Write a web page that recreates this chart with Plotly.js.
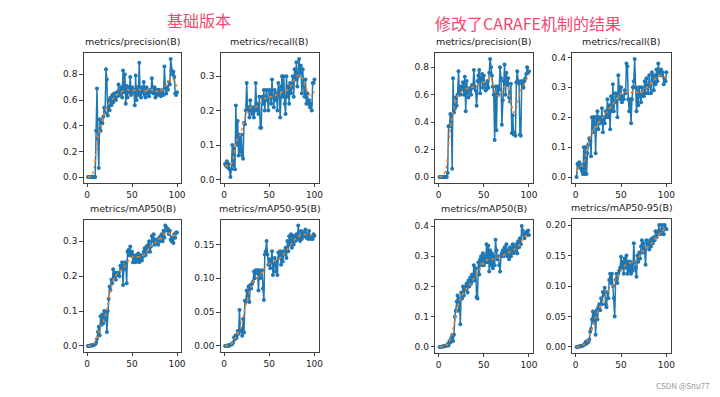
<!DOCTYPE html>
<html><head><meta charset="utf-8">
<script src="https://cdn.plot.ly/plotly-3.0.1.min.js"></script>
<style>html,body{margin:0;padding:0;background:#fff}#c{width:720px;height:397px}</style>
</head><body><div id="c"></div>
<script>
// ---- data ----
const panelTitles = ["metrics/precision(B)","metrics/recall(B)","metrics/mAP50(B)","metrics/mAP50-95(B)"];
const groupTitles = ["基础版本","修改了CARAFE机制的结果"];
const watermark = "CSDN @Snu77";

// base version
const basePrecision = [0,0,0,0,0,0,0,0,0,0.36,0.69,0.30,0.07,0.45,0.36,0.44,0.42,0.47,0.54,0.50,
0.84,0.76,0.48,0.60,0.52,0.62,0.56,0.64,0.58,0.65,0.62,0.60,0.66,0.63,0.72,0.64,0.67,0.70,0.62,0.83,
0.66,0.80,0.57,0.71,0.62,0.70,0.66,0.78,0.64,0.70,0.66,0.68,0.56,0.79,0.60,0.70,0.64,0.89,0.66,0.62,
0.70,0.66,0.74,0.64,0.62,0.70,0.65,0.66,0.63,0.68,0.66,0.77,0.69,0.65,0.70,0.62,0.68,0.64,0.66,0.68,
0.65,0.63,0.66,0.68,0.64,0.86,0.70,0.65,0.70,0.68,0.74,0.72,0.92,0.83,0.80,0.82,0.78,0.65,0.64,0.66];
const baseRecall = [0.045,0.04,0.053,0.035,0.045,0.03,0.007,0.03,0.10,0.04,0.09,0.03,0.215,0.10,0.17,0.07,0.13,0.08,0.13,0.07,
0.06,0.165,0.16,0.20,0.28,0.20,0.21,0.18,0.23,0.20,0.19,0.21,0.18,0.20,0.28,0.20,0.22,0.19,0.24,0.15,
0.15,0.24,0.22,0.26,0.20,0.24,0.26,0.23,0.20,0.26,0.25,0.22,0.29,0.24,0.21,0.26,0.23,0.25,0.20,0.28,
0.26,0.18,0.27,0.30,0.24,0.30,0.22,0.19,0.30,0.24,0.27,0.22,0.28,0.25,0.27,0.30,0.24,0.32,0.29,0.34,
0.27,0.30,0.35,0.31,0.33,0.25,0.32,0.27,0.24,0.29,0.22,0.25,0.22,0.23,0.21,0.22,0.20,0.28,0.28,0.29];
const baseMAP50 = [0,0,0,0.002,0.001,0.003,0.002,0.004,0.005,0.01,0.02,0.04,0.055,0.03,0.085,0.06,0.09,0.065,0.10,0.075,
0.095,0.04,0.10,0.135,0.17,0.16,0.19,0.18,0.22,0.20,0.21,0.19,0.21,0.205,0.21,0.20,0.23,0.22,0.24,0.175,
0.23,0.22,0.24,0.18,0.27,0.275,0.26,0.285,0.26,0.27,0.24,0.26,0.25,0.24,0.26,0.245,0.265,0.24,0.25,0.26,
0.245,0.255,0.27,0.28,0.26,0.285,0.27,0.29,0.30,0.27,0.285,0.315,0.30,0.32,0.29,0.305,0.295,0.30,0.29,0.31,
0.30,0.315,0.32,0.30,0.33,0.31,0.345,0.34,0.33,0.335,0.32,0.33,0.305,0.30,0.31,0.295,0.32,0.31,0.325,0.325];
const baseMAP5095 = [0,0,0,0.001,0,0.001,0.002,0.002,0.003,0.005,0.013,0.01,0.016,0.012,0.022,0.018,0.053,0.022,0.025,0.015,
0.04,0.02,0.067,0.065,0.082,0.07,0.088,0.065,0.09,0.085,0.092,0.095,0.11,0.10,0.112,0.108,0.112,0.082,0.112,0.10,
0.11,0.112,0.085,0.068,0.135,0.14,0.155,0.135,0.12,0.128,0.115,0.125,0.14,0.105,0.12,0.13,0.11,0.125,0.105,0.138,
0.13,0.14,0.12,0.138,0.125,0.14,0.135,0.145,0.13,0.155,0.14,0.162,0.15,0.165,0.145,0.163,0.15,0.163,0.155,0.165,
0.158,0.178,0.162,0.155,0.17,0.158,0.168,0.162,0.168,0.172,0.16,0.165,0.158,0.17,0.16,0.158,0.162,0.158,0.165,0.163];

// CARAFE version
const carPrecision = [0,0,0,0,0,0,0,0,0,0.03,0.37,0.37,0.46,0.45,0.06,0.72,0.47,0.50,0.58,0.52,
0.60,0.77,0.62,0.60,0.66,0.64,0.69,0.60,0.73,0.48,0.70,0.62,0.58,0.64,0.65,0.60,0.67,0.65,0.78,0.66,
0.63,0.52,0.70,0.74,0.78,0.61,0.72,0.75,0.65,0.74,0.68,0.63,0.64,0.70,0.65,0.76,0.86,0.80,0.74,0.66,
0.60,0.27,0.66,0.34,0.66,0.60,0.64,0.80,0.72,0.38,0.56,0.70,0.82,0.60,0.76,0.67,0.72,0.58,0.55,0.68,
0.32,0.45,0.31,0.32,0.30,0.69,0.77,0.70,0.68,0.31,0.30,0.70,0.68,0.65,0.70,0.72,0.75,0.80,0.76,0.77];
const carRecall = [0,0.045,0.04,0.05,0.03,0.04,0.02,0.01,0.10,0.01,0.10,0.01,0.08,0.11,0.13,0.12,0.07,0.20,0.15,0.20,
0.20,0.08,0.20,0.22,0.16,0.20,0.18,0.19,0.23,0.15,0.20,0.18,0.22,0.20,0.26,0.20,0.24,0.16,0.27,0.22,
0.31,0.22,0.25,0.28,0.27,0.20,0.34,0.28,0.26,0.30,0.25,0.27,0.26,0.29,0.28,0.38,0.37,0.26,0.22,0.26,
0.18,0.26,0.30,0.32,0.395,0.30,0.22,0.29,0.24,0.30,0.27,0.25,0.30,0.28,0.27,0.32,0.28,0.33,0.30,0.28,
0.34,0.31,0.28,0.35,0.33,0.29,0.34,0.31,0.36,0.32,0.38,0.35,0.34,0.36,0.34,0.35,0.31,0.33,0.32,0.35];
const carMAP50 = [0,0,0.001,0.001,0.002,0.002,0.003,0.003,0.005,0.01,0.005,0.02,0.015,0.03,0.04,0.02,0.04,0.10,0.12,0.15,
0.17,0.12,0.16,0.075,0.18,0.16,0.20,0.17,0.20,0.19,0.21,0.18,0.22,0.20,0.23,0.21,0.24,0.22,0.27,0.22,
0.26,0.165,0.16,0.28,0.24,0.29,0.30,0.27,0.31,0.27,0.30,0.28,0.34,0.28,0.335,0.25,0.32,0.27,0.31,0.26,
0.30,0.27,0.355,0.32,0.29,0.30,0.27,0.25,0.30,0.31,0.32,0.30,0.33,0.31,0.34,0.30,0.32,0.29,0.33,0.30,
0.32,0.34,0.31,0.33,0.32,0.34,0.31,0.35,0.33,0.36,0.34,0.40,0.385,0.37,0.36,0.375,0.38,0.37,0.385,0.37];
const carMAP5095 = [0,0,0,0.001,0.001,0.001,0.002,0.002,0.003,0.005,0.008,0.005,0.01,0.008,0.012,0.025,0.03,0.045,0.058,0.04,
0.055,0.02,0.06,0.045,0.065,0.07,0.06,0.08,0.07,0.09,0.085,0.097,0.07,0.065,0.09,0.08,0.11,0.12,0.105,0.12,
0.10,0.08,0.05,0.11,0.12,0.105,0.12,0.125,0.13,0.148,0.13,0.14,0.12,0.145,0.13,0.15,0.12,0.14,0.125,0.14,
0.12,0.135,0.125,0.17,0.14,0.13,0.115,0.15,0.14,0.155,0.145,0.165,0.175,0.155,0.17,0.158,0.135,0.175,0.165,0.17,
0.16,0.175,0.165,0.178,0.17,0.18,0.175,0.19,0.18,0.185,0.19,0.20,0.185,0.19,0.20,0.192,0.185,0.20,0.195,0.193];

// smoothed (orange dotted) curves, read at these epochs
const smoothEpochs = [1,5,8,10,12,15,18,20,23,25,30,35,40,45,50,55,60,65,70,75,80,85,90,95,100];
const baseSmoothPrecision = [0,0.005,0.08,0.2,0.3,0.4,0.47,0.52,0.56,0.58,0.62,0.65,0.67,0.68,0.67,0.68,0.68,0.67,0.68,0.68,0.66,0.69,0.74,0.77,0.70];
const baseSmoothRecall = [0.04,0.04,0.045,0.06,0.09,0.12,0.13,0.15,0.18,0.195,0.21,0.21,0.22,0.235,0.24,0.24,0.25,0.255,0.26,0.275,0.30,0.30,0.27,0.245,0.255];
const baseSmoothMAP50 = [0,0.002,0.008,0.02,0.035,0.055,0.07,0.085,0.12,0.145,0.195,0.21,0.22,0.24,0.255,0.255,0.255,0.265,0.285,0.295,0.305,0.32,0.325,0.315,0.32];
const baseSmoothMAP5095 = [0,0.001,0.003,0.006,0.011,0.018,0.027,0.035,0.055,0.065,0.088,0.10,0.105,0.115,0.122,0.125,0.128,0.134,0.143,0.152,0.16,0.164,0.165,0.164,0.163];
const carSmoothPrecisionEpochs = [1,5,8,10,12,14,16,18,20,25,30,35,40,45,50,55,57,60,63,66,70,73,76,80,83,86,90,95,100];
const carSmoothPrecision = [0,0.01,0.05,0.15,0.3,0.4,0.47,0.53,0.58,0.62,0.64,0.65,0.66,0.68,0.69,0.71,0.73,0.69,0.61,0.59,0.61,0.66,0.66,0.55,0.47,0.50,0.62,0.68,0.75];
const carSmoothRecall = [0.02,0.035,0.04,0.06,0.08,0.12,0.15,0.16,0.17,0.18,0.20,0.22,0.24,0.26,0.28,0.285,0.28,0.29,0.28,0.29,0.305,0.32,0.335,0.34,0.33];
const carSmoothMAP50 = [0,0.002,0.005,0.01,0.02,0.045,0.09,0.12,0.15,0.165,0.19,0.21,0.23,0.255,0.28,0.29,0.29,0.295,0.30,0.31,0.315,0.325,0.34,0.365,0.37];
const carSmoothMAP5095 = [0,0.001,0.003,0.005,0.008,0.018,0.03,0.04,0.052,0.06,0.075,0.09,0.10,0.112,0.125,0.135,0.138,0.14,0.148,0.158,0.165,0.172,0.182,0.19,0.195];

// y tick values per panel
const ticksPrecisionBase = [0,0.2,0.4,0.6,0.8];
const ticksRecallBase = [0,0.1,0.2,0.3];
const ticksMAP50Base = [0,0.1,0.2,0.3];
const ticksMAP5095Base = [0,0.05,0.1,0.15];
const ticksPrecisionCar = [0,0.2,0.4,0.6,0.8];
const ticksRecallCar = [0,0.1,0.2,0.3,0.4];
const ticksMAP50Car = [0,0.1,0.2,0.3,0.4];
const ticksMAP5095Car = [0,0.05,0.1,0.15,0.2];
const xTicks = [0,50,100];

// ---- build ----
const W=720,H=397;
const panels = [
 {y:basePrecision, sx:smoothEpochs, sy:baseSmoothPrecision, t:panelTitles[0], ticks:ticksPrecisionBase, fmt:'.1f', box:[83.5,181.5,53,183]},
 {y:baseRecall, sx:smoothEpochs, sy:baseSmoothRecall, t:panelTitles[1], ticks:ticksRecallBase, fmt:'.1f', box:[220.5,319,53,183]},
 {y:baseMAP50, sx:smoothEpochs, sy:baseSmoothMAP50, t:panelTitles[2], ticks:ticksMAP50Base, fmt:'.1f', box:[83.5,181.5,219.5,352]},
 {y:baseMAP5095, sx:smoothEpochs, sy:baseSmoothMAP5095, t:panelTitles[3], ticks:ticksMAP5095Base, fmt:'.2f', box:[220.5,319,219.5,352]},
 {y:carPrecision, sx:carSmoothPrecisionEpochs, sy:carSmoothPrecision, t:panelTitles[0], ticks:ticksPrecisionCar, fmt:'.1f', box:[435,533.5,53,183]},
 {y:carRecall, sx:smoothEpochs, sy:carSmoothRecall, t:panelTitles[1], ticks:ticksRecallCar, fmt:'.1f', box:[572,671,53,183]},
 {y:carMAP50, sx:smoothEpochs, sy:carSmoothMAP50, t:panelTitles[2], ticks:ticksMAP50Car, fmt:'.1f', box:[435,533.5,220,353]},
 {y:carMAP5095, sx:smoothEpochs, sy:carSmoothMAP5095, t:panelTitles[3], ticks:ticksMAP5095Car, fmt:'.2f', box:[572,671,219,353]}
];
const traces=[], annotations=[];
const layout = {width:W,height:H,margin:{l:0,r:0,t:0,b:0},showlegend:false,
  paper_bgcolor:'#fff',plot_bgcolor:'#fff',font:{family:'DejaVu Sans',size:9,color:'#222'}};
panels.forEach((p,i)=>{
  const n=i+1, xa='x'+(n===1?'':n), ya='y'+(n===1?'':n);
  const epochs = p.y.map((v,k)=>k+1);
  traces.push({x:epochs,y:p.y,xaxis:xa,yaxis:ya,type:'scatter',mode:'lines+markers',
    line:{color:'#1f77b4',width:1.5},marker:{color:'#1f77b4',size:4},hoverinfo:'skip'});
  traces.push({x:p.sx,y:p.sy,xaxis:xa,yaxis:ya,type:'scatter',mode:'lines',
    line:{color:'#ff7f0e',width:1.5,dash:'dot',shape:'spline',smoothing:0.6},hoverinfo:'skip'});
  const [x0,x1,y0,y1]=p.box;
  const ymin=Math.min(...p.y), ymax=Math.max(...p.y), pad=(ymax-ymin)*0.05;
  const axCommon={showline:true,mirror:true,linecolor:'#111',linewidth:0.8,ticks:'outside',ticklen:3.5,
    tickcolor:'#111',tickwidth:0.8,showgrid:false,zeroline:false,tickfont:{family:'DejaVu Sans',size:9,color:'#222'}};
  layout['xaxis'+(n===1?'':n)] = Object.assign({},axCommon,{domain:[x0/W,x1/W],anchor:ya,
    range:[-4,105],tickvals:xTicks,ticktext:xTicks.map(String)});
  layout['yaxis'+(n===1?'':n)] = Object.assign({},axCommon,{domain:[(H-y1)/H,(H-y0)/H],anchor:xa,
    range:[ymin-pad,ymax+pad],tickvals:p.ticks,tickformat:p.fmt});
  annotations.push({text:p.t,xref:'paper',yref:'paper',x:((x0+x1)/2)/W,y:(H-y0+4)/H,
    xanchor:'center',yanchor:'bottom',showarrow:false,font:{family:'DejaVu Sans',size:9.5,color:'#222'}});
});
annotations.push({text:groupTitles[0],xref:'paper',yref:'paper',x:198.5/W,y:(H-20)/H,xanchor:'center',yanchor:'middle',
  showarrow:false,font:{family:'Noto Sans CJK SC',size:16,color:'#f0486e'}});
annotations.push({text:groupTitles[1],xref:'paper',yref:'paper',x:528/W,y:(H-23)/H,xanchor:'center',yanchor:'middle',
  showarrow:false,font:{family:'Noto Sans CJK SC',size:16,color:'#f0486e'}});
annotations.push({text:watermark,xref:'paper',yref:'paper',x:712/W,y:(H-385)/H,xanchor:'right',yanchor:'middle',
  showarrow:false,font:{family:'Noto Sans CJK SC',size:8,color:'#999'}});
layout.annotations=annotations;
Plotly.newPlot('c',traces,layout,{staticPlot:true,displayModeBar:false});
</script></body></html>
